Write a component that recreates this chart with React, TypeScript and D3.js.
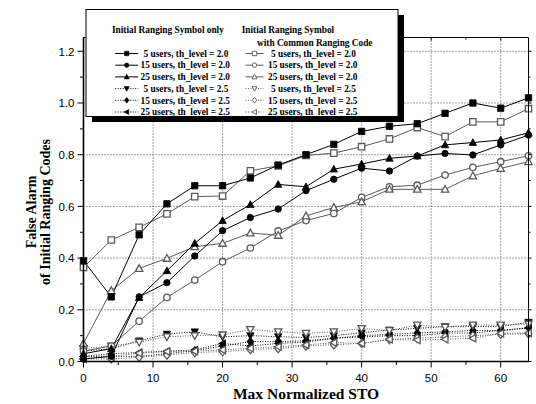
import React from 'react';
import * as d3 from 'd3';

const W = 536;
const H = 404;

const xValues = [0, 4, 8, 12, 16, 20, 24, 28, 32, 36, 40, 44, 48, 52, 56, 60, 64];
const xTicks = [0, 10, 20, 30, 40, 50, 60];
const xMinorTicks = [5, 15, 25, 35, 45, 55];
const yTicks = [0, 0.2, 0.4, 0.6, 0.8, 1.0, 1.2];
const yMinorTicks = [0.1, 0.3, 0.5, 0.7, 0.9, 1.1];

// Initial Ranging Symbol only, th_level = 2.0
const only5_20 = [0.39, 0.25, 0.49, 0.61, 0.68, 0.68, 0.71, 0.76, 0.8, 0.84, 0.89, 0.91, 0.92, 0.96, 1.0, 0.98, 1.02];
const only15_20 = [0.01, 0.02, 0.25, 0.305, 0.408, 0.506, 0.557, 0.59, 0.661, 0.705, 0.748, 0.737, 0.795, 0.805, 0.799, 0.838, 0.876];
const only25_20 = [0.03, 0.05, 0.247, 0.351, 0.457, 0.545, 0.607, 0.685, 0.676, 0.744, 0.764, 0.786, 0.795, 0.838, 0.847, 0.857, 0.885];
// Initial Ranging Symbol with Common Ranging Code, th_level = 2.0
const common5_20 = [0.364, 0.47, 0.519, 0.571, 0.638, 0.64, 0.738, 0.757, 0.797, 0.806, 0.831, 0.861, 0.905, 0.87, 0.927, 0.927, 0.978];
const common15_20 = [0.04, 0.06, 0.156, 0.248, 0.315, 0.386, 0.439, 0.505, 0.545, 0.573, 0.635, 0.676, 0.682, 0.721, 0.751, 0.773, 0.796];
const common25_20 = [0.07, 0.274, 0.36, 0.399, 0.444, 0.457, 0.497, 0.488, 0.563, 0.596, 0.618, 0.666, 0.666, 0.666, 0.718, 0.747, 0.773];
// th_level = 2.5
const only5_25 = [0.04, 0.05, 0.08, 0.106, 0.115, 0.095, 0.1, 0.096, 0.093, 0.1, 0.111, 0.122, 0.128, 0.135, 0.135, 0.135, 0.152];
const common5_25 = [0.05, 0.06, 0.075, 0.096, 0.1, 0.103, 0.124, 0.115, 0.109, 0.115, 0.128, 0.12, 0.141, 0.133, 0.141, 0.141, 0.145];
const only15_25 = [0.02, 0.02, 0.02, 0.03, 0.042, 0.06, 0.077, 0.077, 0.08, 0.09, 0.1, 0.105, 0.11, 0.115, 0.12, 0.12, 0.13];
const common15_25 = [0.01, 0.01, 0.016, 0.025, 0.035, 0.038, 0.046, 0.05, 0.06, 0.065, 0.07, 0.085, 0.09, 0.095, 0.1, 0.105, 0.107];
const only25_25 = [0.02, 0.03, 0.035, 0.04, 0.045, 0.07, 0.06, 0.07, 0.075, 0.09, 0.095, 0.1, 0.1, 0.11, 0.11, 0.12, 0.13];
const common25_25 = [0.01, 0.02, 0.032, 0.038, 0.04, 0.045, 0.051, 0.057, 0.064, 0.073, 0.07, 0.086, 0.083, 0.086, 0.09, 0.109, 0.11];

const legendLabels = [
  '5 users, th_level = 2.0',
  '15 users, th_level = 2.0',
  '25 users, th_level = 2.0',
  '5 users, th_level = 2.5',
  '15 users, th_level = 2.5',
  '25 users, th_level = 2.5',
];

type Shape = 'square' | 'circle' | 'triUp' | 'triDown' | 'diamond' | 'triLeft';

interface SeriesCfg {
  values: number[];
  shape: Shape;
  filled: boolean;
  dotted: boolean;
  col: number;
  row: number;
}

const series: SeriesCfg[] = [
  { values: only5_25, shape: 'triDown', filled: true, dotted: true, col: 0, row: 3 },
  { values: only15_25, shape: 'diamond', filled: true, dotted: true, col: 0, row: 4 },
  { values: only25_25, shape: 'triLeft', filled: true, dotted: true, col: 0, row: 5 },
  { values: common5_25, shape: 'triDown', filled: false, dotted: true, col: 1, row: 3 },
  { values: common15_25, shape: 'diamond', filled: false, dotted: true, col: 1, row: 4 },
  { values: common25_25, shape: 'triLeft', filled: false, dotted: true, col: 1, row: 5 },
  { values: common5_20, shape: 'square', filled: false, dotted: false, col: 1, row: 0 },
  { values: common15_20, shape: 'circle', filled: false, dotted: false, col: 1, row: 1 },
  { values: common25_20, shape: 'triUp', filled: false, dotted: false, col: 1, row: 2 },
  { values: only5_20, shape: 'square', filled: true, dotted: false, col: 0, row: 0 },
  { values: only15_20, shape: 'circle', filled: true, dotted: false, col: 0, row: 1 },
  { values: only25_20, shape: 'triUp', filled: true, dotted: false, col: 0, row: 2 },
];

function markerPath(shape: Shape, s: number): string {
  switch (shape) {
    case 'square':
      return `M${-s},${-s}h${2 * s}v${2 * s}h${-2 * s}Z`;
    case 'circle':
      return `M${-s},0a${s},${s} 0 1,0 ${2 * s},0a${s},${s} 0 1,0 ${-2 * s},0Z`;
    case 'triUp':
      return `M0,${-s * 1.2}L${s * 1.15},${s * 0.9}L${-s * 1.15},${s * 0.9}Z`;
    case 'triDown':
      return `M0,${s * 1.2}L${s * 1.15},${-s * 0.9}L${-s * 1.15},${-s * 0.9}Z`;
    case 'triLeft':
      return `M${-s * 1.2},0L${s * 0.9},${-s * 1.15}L${s * 0.9},${s * 1.15}Z`;
    case 'diamond':
      return `M0,${-s * 1.3}L${s * 1.05},0L0,${s * 1.3}L${-s * 1.05},0Z`;
  }
}

const PL = 83.5;
const PR = 528.5;
const PT = 37.5;
const PB = 361.5;

export default function App() {
  const x = d3.scaleLinear().domain([0, 64]).range([PL, PR]);
  const y = d3.scaleLinear().domain([0, 1.2534]).range([PB, PT]);
  const line = d3
    .line<number>()
    .x((_, i) => x(xValues[i]))
    .y((d) => y(d));

  const gray = '#5a5a5a';
  const serif = '"Liberation Serif", "Times New Roman", serif';
  const sans = '"Liberation Sans", Arial, sans-serif';

  const legX = 86;
  const legY = 9.5;
  const legW = 312;
  const legH = 107;
  const rowY = (r: number) => 53.5 + r * 11.7;
  const colMarkerX = [126.7, 254.5];
  const colLineHalf = [11.5, 9];
  const colTextX = [140.5, 268];
  const fiveShift = 3;

  return (
    <svg
      width={W}
      height={H}
      style={{ position: 'absolute', left: 0, top: 0, background: '#fff' }}
      xmlns="http://www.w3.org/2000/svg"
    >
      <rect x={0} y={0} width={W} height={H} fill="#fff" />
      {/* grid */}
      <g stroke="#444" strokeWidth={1} strokeDasharray="1,2">
        {xTicks
          .filter((t) => t > 0)
          .map((t) => (
            <line key={'gx' + t} x1={x(t)} x2={x(t)} y1={PT} y2={PB} />
          ))}
        {yTicks
          .filter((t) => t > 0)
          .map((t) => (
            <line key={'gy' + t} x1={PL} x2={PR} y1={y(t)} y2={y(t)} />
          ))}
      </g>

      {/* series lines */}
      {series.map((s, i) => (
        <path
          key={'l' + i}
          d={line(s.values) || ''}
          fill="none"
          stroke={s.filled ? '#000' : gray}
          strokeWidth={1}
          strokeDasharray={s.dotted ? '1,1.5' : undefined}
        />
      ))}
      {/* markers */}
      {series.map((s, i) => (
        <g key={'m' + i}>
          {s.values.map((v, j) => (
            <path
              key={j}
              d={markerPath(s.shape, 3.2)}
              transform={`translate(${x(xValues[j])},${y(v)})`}
              fill={s.filled ? '#000' : '#fff'}
              stroke={s.filled ? '#000' : gray}
              strokeWidth={s.filled ? 0.8 : 1.3}
            />
          ))}
        </g>
      ))}

      {/* frame */}
      <line x1={PL} x2={PR} y1={PT} y2={PT} stroke="#000" strokeWidth={1} />
      <line x1={PR} x2={PR} y1={PT} y2={PB} stroke="#000" strokeWidth={1} />
      <line x1={PL} x2={PL} y1={PT} y2={PB + 0.8} stroke="#000" strokeWidth={1.6} />
      <line x1={PL - 0.8} x2={PR} y1={PB} y2={PB} stroke="#000" strokeWidth={1.6} />

      {/* ticks */}
      <g stroke="#000" strokeWidth={1}>
        {xTicks.map((t) => (
          <line key={'xt' + t} x1={x(t)} x2={x(t)} y1={PB} y2={PB + 6} />
        ))}
        {xMinorTicks.map((t) => (
          <line key={'xm' + t} x1={x(t)} x2={x(t)} y1={PB} y2={PB + 3.5} />
        ))}
        {xTicks.map((t) => (
          <line key={'xtt' + t} x1={x(t)} x2={x(t)} y1={PT} y2={PT + 3} />
        ))}
        {xMinorTicks.map((t) => (
          <line key={'xmt' + t} x1={x(t)} x2={x(t)} y1={PT} y2={PT + 2} />
        ))}
        {yTicks.map((t) => (
          <line key={'yt' + t} x1={PL - 6} x2={PL} y1={y(t)} y2={y(t)} />
        ))}
        {yMinorTicks.map((t) => (
          <line key={'ym' + t} x1={PL - 3.5} x2={PL} y1={y(t)} y2={y(t)} />
        ))}
        {yTicks.map((t) => (
          <line key={'ytr' + t} x1={PR} x2={PR + 3} y1={y(t)} y2={y(t)} />
        ))}
        {yMinorTicks.map((t) => (
          <line key={'ymr' + t} x1={PR} x2={PR + 2} y1={y(t)} y2={y(t)} />
        ))}
      </g>

      {/* tick labels */}
      <g fontFamily={sans} fontSize={11.5} fill="#000">
        {xTicks.map((t) => (
          <text key={'xl' + t} x={x(t)} y={PB + 20.5} textAnchor="middle">
            {t}
          </text>
        ))}
        {yTicks.map((t) => (
          <text key={'yl' + t} x={PL - 9} y={y(t) + 4.2} textAnchor="end">
            {t.toFixed(1)}
          </text>
        ))}
      </g>

      {/* axis titles */}
      <text x={306} y={399} textAnchor="middle" fontFamily={serif} fontWeight="bold" fontSize={15.5}>
        Max Normalized STO
      </text>
      <text
        transform="translate(36,212) rotate(-90)"
        textAnchor="middle"
        fontFamily={serif}
        fontWeight="bold"
        fontSize={14}
      >
        False Alarm
      </text>
      <text
        transform="translate(50,212) rotate(-90)"
        textAnchor="middle"
        fontFamily={serif}
        fontWeight="bold"
        fontSize={14}
      >
        of Initial Ranging Codes
      </text>

      {/* legend */}
      <rect x={legX + 6} y={legY + 5.5} width={legW} height={legH} fill="#000" />
      <rect x={legX} y={legY} width={legW} height={legH} fill="#fff" stroke="#000" strokeWidth={1} />
      <g fontFamily={serif} fontWeight="bold" fontSize={9.3} fill="#000">
        <text x={112} y={33}>
          Initial Ranging Symbol only
        </text>
        <text x={241.7} y={33}>
          Initial Ranging Symbol
        </text>
        <text x={257} y={45.5}>
          with Common Ranging Code
        </text>
      </g>
      {series.map((s, i) => {
        const cx = colMarkerX[s.col];
        const cy = rowY(s.row);
        const half = colLineHalf[s.col];
        const label = legendLabels[s.row];
        const tx = colTextX[s.col] + (label.startsWith('5 ') ? fiveShift : 0);
        return (
          <g key={'lg' + i}>
            <line
              x1={cx - half}
              x2={cx + half}
              y1={cy}
              y2={cy}
              stroke={s.filled ? '#000' : gray}
              strokeWidth={1}
              strokeDasharray={s.dotted ? '1,1.5' : undefined}
            />
            <path
              d={markerPath(s.shape, 2.2)}
              transform={`translate(${cx},${cy})`}
              fill={s.filled ? '#000' : '#fff'}
              stroke={s.filled ? '#000' : gray}
              strokeWidth={s.filled ? 0.6 : 0.9}
            />
            <text x={tx} y={cy + 3.2} fontFamily={serif} fontWeight="bold" fontSize={9.3} fill="#000">
              {label}
            </text>
          </g>
        );
      })}
    </svg>
  );
}
